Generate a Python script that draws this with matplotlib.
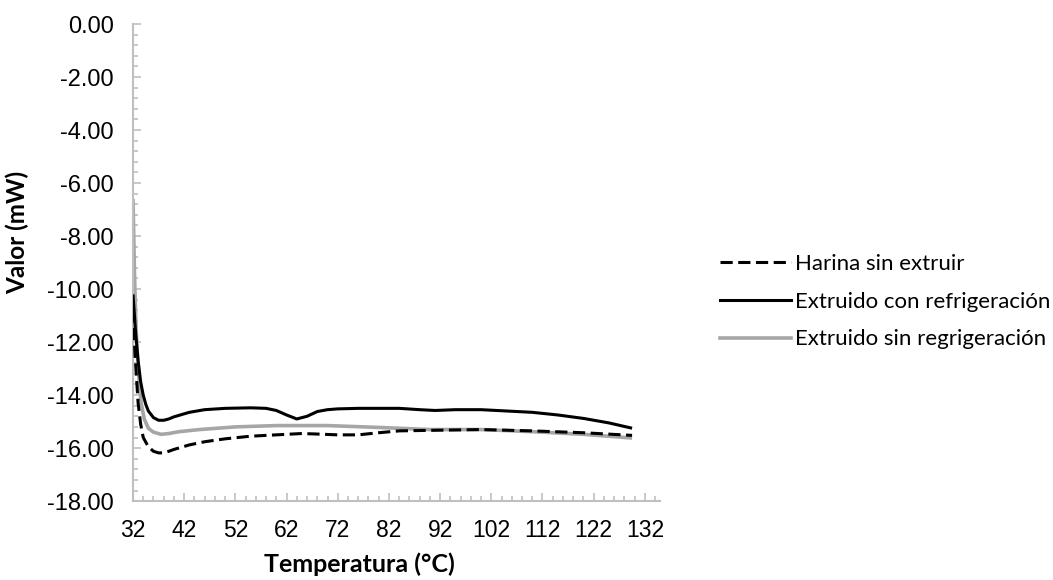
import matplotlib
matplotlib.use("Agg")
import matplotlib.pyplot as plt
from matplotlib.ticker import MultipleLocator, FixedLocator, FormatStrFormatter
from matplotlib.lines import Line2D

# Temperature (°C) and values (mW)
temp_harina = [32, 32.4, 33, 33.5, 34, 35, 36, 37, 38, 39, 40, 43, 46, 50, 55, 60, 65, 68, 72, 76, 80, 84, 90, 100, 110, 120, 129.5]
val_harina = [-10.8, -12.5, -14.3, -15.1, -15.6, -15.95, -16.12, -16.18, -16.18, -16.12, -16.05, -15.88, -15.76, -15.65, -15.55, -15.5, -15.45, -15.47, -15.5, -15.5, -15.42, -15.35, -15.33, -15.3, -15.35, -15.42, -15.52]

temp_con_ref = [32, 32.5, 33, 33.5, 34, 34.5, 35, 36, 37, 38, 39, 40, 43, 46, 50, 55, 58, 60, 62, 64, 66, 68, 70, 72, 76, 80, 84, 88, 91, 95, 100, 105, 110, 115, 120, 125, 129.5]
val_con_ref = [-10.2, -11.6, -12.7, -13.5, -14.0, -14.35, -14.6, -14.85, -14.95, -14.95, -14.9, -14.82, -14.65, -14.55, -14.5, -14.48, -14.5, -14.58, -14.75, -14.9, -14.8, -14.62, -14.55, -14.52, -14.5, -14.5, -14.5, -14.55, -14.58, -14.55, -14.55, -14.6, -14.65, -14.75, -14.88, -15.05, -15.25]

temp_sin_ref = [32, 32.3, 32.6, 33, 33.6, 34.2, 35, 36, 37.5, 39, 41, 45, 52, 60, 70, 80, 90, 100, 110, 120, 129.5]
val_sin_ref = [-6.6, -9.5, -11.5, -13.0, -14.3, -14.9, -15.25, -15.4, -15.48, -15.45, -15.38, -15.3, -15.2, -15.15, -15.15, -15.22, -15.3, -15.3, -15.38, -15.48, -15.62]

series_labels = ["Harina sin extruir", "Extruido con refrigeración", "Extruido sin regrigeración"]
x_ticks = [32, 42, 52, 62, 72, 82, 92, 102, 112, 122, 132]

x_label = "Temperatura (°C)"
y_label = "Valor (mW)"

fig = plt.figure(figsize=(10.53, 5.8), dpi=100)
ax = fig.add_axes([0.1263, 0.136, 0.5007, 0.8226])

gray = "#a6a6a6"
ax.plot(temp_sin_ref, val_sin_ref, color=gray, lw=2.6, solid_capstyle="butt", zorder=2)
ax.plot(temp_con_ref, val_con_ref, color="black", lw=2.2, solid_capstyle="butt", zorder=3)
ax.plot(temp_harina, val_harina, color="black", lw=2.2, dashes=(4, 1.8), zorder=4)

ax.set_xlim(32, 135)
ax.set_ylim(-18, 0)

ax.xaxis.set_major_locator(FixedLocator(x_ticks))
ax.xaxis.set_minor_locator(FixedLocator(list(range(32, 135, 2))))
ax.yaxis.set_major_locator(MultipleLocator(2))
ax.yaxis.set_minor_locator(MultipleLocator(0.4))
ax.yaxis.set_major_formatter(FormatStrFormatter("%.2f"))
ax.xaxis.set_major_formatter(FormatStrFormatter("%d"))

spine_c = "#bfbfbf"
for s in ["top", "right"]:
    ax.spines[s].set_visible(False)
for s in ["left", "bottom"]:
    ax.spines[s].set_color(spine_c)
    ax.spines[s].set_linewidth(1.5)

tick_font = "Liberation Sans"
ax.tick_params(axis="y", which="major", direction="in", length=6, width=1.2, color=spine_c,
               labelsize=17, pad=14)
ax.tick_params(axis="x", which="major", direction="in", length=6, width=1.2, color=spine_c,
               labelsize=16.5, pad=13)
ax.tick_params(axis="both", which="minor", direction="in", length=3.5, width=1.2, color=spine_c)
for lab in ax.get_xticklabels() + ax.get_yticklabels():
    lab.set_fontfamily(tick_font)

ax.set_xlabel(x_label, fontsize=18, fontweight="bold", family="Lato")
ax.set_ylabel(y_label, fontsize=17.5, fontweight="bold", family="Lato")
ax.xaxis.set_label_coords(0.429, -0.108)
ax.yaxis.set_label_coords(-0.196, 0.564)

handles = [
    Line2D([0], [0], color="black", lw=2.2, dashes=(4, 1.8)),
    Line2D([0], [0], color="black", lw=2.2),
    Line2D([0], [0], color=gray, lw=2.6),
]
fig.legend(handles, series_labels, loc="center left", bbox_to_anchor=(0.684, 0.48),
           frameon=False, prop={"family": "Lato", "size": 16}, borderpad=0,
           handlelength=3.2, handletextpad=0.18, labelspacing=0.8, borderaxespad=0)

fig.savefig("out.png", dpi=100)
